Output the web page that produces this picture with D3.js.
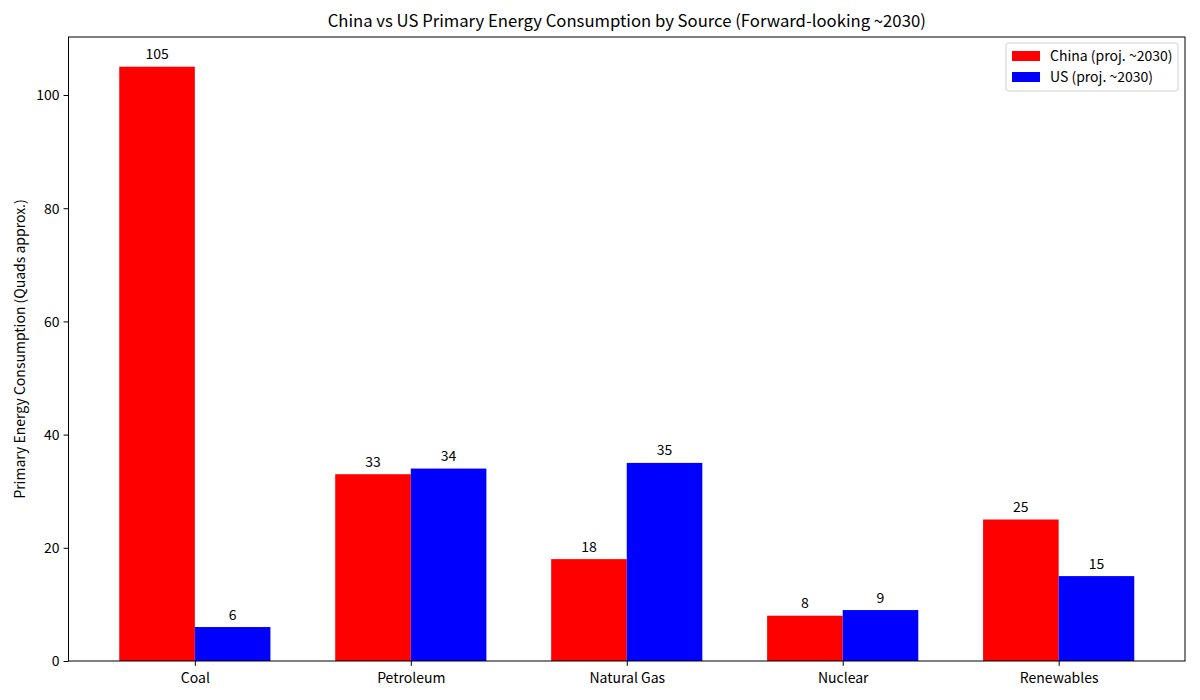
<!DOCTYPE html>
<html><head><meta charset="utf-8">
<script src="https://cdn.jsdelivr.net/npm/d3@7"></script>
<style>body{margin:0;background:#fff}svg{display:block}text{font-family:"Noto Sans CJK SC","Noto Sans",sans-serif;fill:#000}</style>
</head><body>
<script>
const categories = ["Coal","Petroleum","Natural Gas","Nuclear","Renewables"];
const china = [105,33,18,8,25];
const us = [6,34,35,9,15];
const seriesNames = ["China (proj. ~2030)","US (proj. ~2030)"];
const seriesColors = ["#ff0000","#0000ff"];
const yTicks = [0,20,40,60,80,100];

const W=1200,H=700;
const m={l:68.5,r:1185,t:37,b:661};
const svg=d3.select("body").append("svg").attr("width",W).attr("height",H);

const barW=0.35;
const x=d3.scaleLinear().domain([-0.585,4.585]).range([m.l,m.r]);
const y=d3.scaleLinear().domain([0,110.25]).range([m.b,m.t]);

const series=[china,us];
series.forEach((vals,si)=>{
  const off = si===0 ? -barW : 0;
  svg.append("g").selectAll("rect").data(vals).join("rect")
    .attr("x",(d,i)=>x(i+off))
    .attr("width",(d,i)=>x(i+off+barW)-x(i+off))
    .attr("y",d=>y(d)).attr("height",d=>y(0)-y(d))
    .attr("fill",seriesColors[si]);
  svg.append("g").selectAll("text").data(vals).join("text")
    .attr("x",(d,i)=>x(i+off+barW/2))
    .attr("y",d=>y(d)-7.5)
    .attr("text-anchor","middle").attr("font-size",14)
    .text(d=>d);
});

// axes
const xa=svg.append("g").attr("transform",`translate(0,${m.b})`)
  .call(d3.axisBottom(x).tickValues(d3.range(categories.length)).tickFormat(i=>categories[i]).tickSize(4.9).tickPadding(4));
const ya=svg.append("g").attr("transform",`translate(${m.l},0)`)
  .call(d3.axisLeft(y).tickValues(yTicks).tickSize(4.9).tickPadding(4));
[xa,ya].forEach(a=>{a.select(".domain").remove();a.selectAll("text").attr("font-size",14).style("font-family",'"Noto Sans CJK SC",sans-serif');a.selectAll("line").attr("stroke","#000").attr("stroke-width",1);});
xa.selectAll("text").attr("dy","0.9em");
ya.selectAll("text").attr("dy","0.35em");

svg.append("rect").attr("x",m.l).attr("y",m.t).attr("width",m.r-m.l).attr("height",m.b-m.t)
  .attr("fill","none").attr("stroke","#000").attr("stroke-width",1);

svg.append("text").attr("x",(m.l+m.r)/2).attr("y",m.t-10).attr("text-anchor","middle")
  .attr("font-size",16.7).text("China vs US Primary Energy Consumption by Source (Forward-looking ~2030)");
svg.append("text").attr("transform",`translate(25,${(m.t+m.b)/2}) rotate(-90)`).attr("text-anchor","middle")
  .attr("font-size",14).text("Primary Energy Consumption (Quads approx.)");

// legend
const lg=svg.append("g");
lg.append("rect").attr("x",1006).attr("y",43).attr("width",172).attr("height",48).attr("rx",2.5)
  .attr("fill","#fff").attr("fill-opacity",0.8).attr("stroke","#d0d0d0");
seriesNames.forEach((n,i)=>{
  const cy=56+i*21;
  lg.append("rect").attr("x",1012).attr("y",cy-5).attr("width",28).attr("height",10).attr("fill",seriesColors[i]);
  lg.append("text").attr("x",1050).attr("y",cy).attr("dy","0.35em").attr("font-size",14).text(n);
});
</script>
</body></html>
